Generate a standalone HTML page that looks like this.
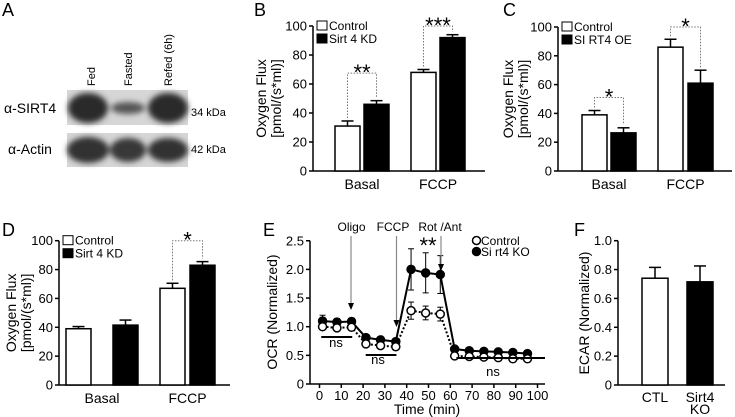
<!DOCTYPE html>
<html><head><meta charset="utf-8"><style>
body{margin:0;background:#fff}
svg{display:block;font-family:"Liberation Sans","DejaVu Sans",sans-serif}
</style></head><body>
<svg id="fig" width="735" height="417" viewBox="0 0 735 417" xmlns="http://www.w3.org/2000/svg">
<defs>
<filter id="blur" x="-20%" y="-50%" width="140%" height="200%"><feGaussianBlur stdDeviation="3"/></filter>
</defs>
<!-- Panel A: western blot -->
<g>
<text x="2" y="16" font-size="18">A</text>
<text transform="translate(95,86) rotate(-90)" font-size="11">Fed</text>
<text transform="translate(132,86) rotate(-90)" font-size="11">Fasted</text>
<text transform="translate(172,86) rotate(-90)" font-size="11">Refed (6h)</text>
<rect x="67" y="90" width="121" height="35" fill="#d6d6d6"/>
<rect x="67" y="133" width="121" height="34" fill="#d6d6d6"/>
<g filter="url(#blur)">
<ellipse cx="88" cy="108" rx="20" ry="15" fill="#2a2a2a"/>
<ellipse cx="128" cy="108" rx="17" ry="6" fill="#555"/>
<ellipse cx="168" cy="108" rx="20" ry="15" fill="#2a2a2a"/>
<ellipse cx="88" cy="150" rx="21" ry="13" fill="#333"/>
<ellipse cx="128" cy="150" rx="18" ry="12" fill="#383838"/>
<ellipse cx="168" cy="150" rx="20" ry="12" fill="#333"/>
</g>
<text x="4" y="113" font-size="14">α-SIRT4</text>
<text x="8" y="154" font-size="14">α-Actin</text>
<text x="191" y="116" font-size="11">34 kDa</text>
<text x="191" y="153" font-size="11">42 kDa</text>
</g>
</svg>
<script>
// ---------- DATA ----------
const barCats = ['Basal', 'FCCP'];
const bCtrl = [31, 68];
const bCtrlErr = [3.5, 2];
const bKD = [46, 92];
const bKDErr = [2.5, 2];
const bSig = ['**', '***'];
const cCtrl = [39, 86];
const cCtrlErr = [3, 5.5];
const cOE = [26.5, 61];
const cOEErr = [3.5, 9];
const cSig = ['*', '*'];
const dCtrl = [39, 67];
const dCtrlErr = [1.5, 3.5];
const dKD = [41.5, 83];
const dKDErr = [3.5, 2.5];
const dSig = ['', '*'];
const oxyTicks = [0, 20, 40, 60, 80, 100];
const eTimes = [1.4, 8, 14.7, 21.3, 28, 35, 42, 48.7, 55.4, 62, 68.7, 75.4, 82, 88.7, 95.4];
const eCtrl = [1.0, 0.98, 0.99, 0.70, 0.67, 0.65, 1.28, 1.24, 1.22, 0.49, 0.48, 0.47, 0.46, 0.44, 0.44];
const eCtrlErr = [0.05, 0.04, 0.04, 0.04, 0.03, 0.03, 0.15, 0.12, 0.12, 0.03, 0.03, 0.03, 0.03, 0.03, 0.03];
const eKO = [1.10, 1.08, 1.09, 0.81, 0.77, 0.74, 2.0, 1.94, 1.91, 0.61, 0.58, 0.57, 0.56, 0.55, 0.53];
const eKOErr = [0.1, 0.06, 0.06, 0.04, 0.03, 0.03, 0.36, 0.35, 0.33, 0.03, 0.03, 0.03, 0.03, 0.03, 0.03];
const eYTicks = [0, 0.5, 1.0, 1.5, 2.0, 2.5];
const eXTicks = [0, 10, 20, 30, 40, 50, 60, 70, 80, 90, 100];
const fCats = ['CTL', 'Sirt4 KO'];
const fVals = [0.74, 0.715];
const fErr = [0.075, 0.11];
const fTicks = [0, 0.2, 0.4, 0.6, 0.8, 1.0];

// ---------- HELPERS ----------
const svg = document.getElementById('fig');
const NS = 'http://www.w3.org/2000/svg';
function mk(tag, attrs, parent) {
  const e = document.createElementNS(NS, tag);
  for (const k in attrs) e.setAttribute(k, attrs[k]);
  (parent || svg).appendChild(e);
  return e;
}
function txt(x, y, s, size, anchor, parent, extra) {
  const t = mk('text', Object.assign({x: x, y: y, 'font-size': size, 'text-anchor': anchor || 'start'}, extra || {}), parent);
  t.textContent = s;
  return t;
}
function panel(name) {
  const g = mk('g', {});
  
  
  return g;
}
function yAxis(g, ax, yTop, yBot, ticks, ys, fmt, xEnd) {
  const l = mk('line', {x1: ax, y1: yTop, x2: ax, y2: yBot, stroke: '#000', 'stroke-width': 1.5}, g);
  
  
  const xl = mk('line', {x1: ax, y1: yBot, x2: xEnd, y2: yBot, stroke: '#000', 'stroke-width': 1.5}, g);
  
  
  ticks.forEach(v => {
    const y = ys(v);
    mk('line', {x1: ax - 4, y1: y, x2: ax, y2: y, stroke: '#000', 'stroke-width': 1.5}, g);
    const t = txt(ax - 6, y + 4.5, fmt(v), 13, 'end', g);
    
    
  });
}
function bar(g, x, w, v, err, fill, ys, yBase, name) {
  const top = ys(v);
  const et = ys(v + err);
  const cx = x + w / 2;
  mk('line', {x1: cx, y1: top, x2: cx, y2: et, stroke: '#000', 'stroke-width': 1.5}, g);
  mk('line', {x1: cx - 6, y1: et, x2: cx + 6, y2: et, stroke: '#000', 'stroke-width': 1.5}, g);
  const r = mk('rect', {x: x, y: top, width: w, height: yBase - top, fill: fill, stroke: '#000', 'stroke-width': 1.5}, g);
  
  
  return et;
}
function bracket(g, x1, y1, x2, y2, yTop, star) {
  const p = mk('path', {d: `M${x1},${y1 - 3}V${yTop}H${x2}V${y2 - 3}`, fill: 'none', stroke: '#777', 'stroke-width': 1, 'stroke-dasharray': '1.5,1.5'}, g);
  
  
  const t = txt((x1 + x2) / 2, yTop + 7, star, 22, 'middle', g);
  
  
}
function legendBox(g, x, y, fill, label) {
  const r = mk('rect', {x: x, y: y, width: 10, height: 9, fill: fill, stroke: '#000', 'stroke-width': 1}, g);
  
  
  const t = txt(x + 12, y + 9, label, 12, 'start', g);
  
  
}
function ylabel2(g, x1, x2, cy, l1, l2) {
  const a = txt(0, 0, l1, 14, 'middle', g, {transform: `translate(${x1},${cy}) rotate(-90)`});
  
  
  if (l2) {
    const b = txt(0, 0, l2, 14, 'middle', g, {transform: `translate(${x2},${cy}) rotate(-90)`});
    
    
  }
}

// ---------- generic grouped bar panel ----------
function groupedPanel(cfg) {
  const g = panel(cfg.name);
  const ys = v => cfg.y0 - v * cfg.k;
  const L = txt(cfg.letterX, 16 + cfg.letterY, cfg.letter, 18, 'start', g);
  
  
  ylabel2(g, cfg.yl1, cfg.yl2, (ys(100) + cfg.y0) / 2, 'Oxygen Flux', '[pmol/(s*ml)]');
  yAxis(g, cfg.ax, ys(100), cfg.y0, oxyTicks, ys, v => String(v), cfg.xEnd);
  barCats.forEach((c, i) => {
    const x1 = cfg.ctrlX[i], x2 = cfg.ctrlX[i] + cfg.off[i];
    const e1 = bar(g, x1, 25, cfg.ctrl[i], cfg.ctrlErr[i], '#fff', ys, cfg.y0, 'bar-control-' + c.toLowerCase());
    const e2 = bar(g, x2, 25, cfg.trt[i], cfg.trtErr[i], '#000', ys, cfg.y0, 'bar-treatment-' + c.toLowerCase());
    if (cfg.sig[i]) bracket(g, x1 + 12.5, e1, x2 + 12.5, e2, ys(cfg.sigLvl[i]), cfg.sig[i]);
    const t = txt((x1 + x2 + 25) / 2, cfg.y0 + 18, c, 14, 'middle', g);
    
    
  });
  legendBox(g, cfg.ax + 4, ys(100) - 5, '#fff', 'Control');
  legendBox(g, cfg.ax + 4, ys(100) + 8, '#000', cfg.trtName);
}
groupedPanel({name: 'panel-b', letter: 'B', letterX: 254, letterY: 0, y0: 171, k: 1.45, ax: 313, xEnd: 485,
  yl1: 266, yl2: 281, ctrlX: [335, 411], off: [29, 29], ctrl: bCtrl, ctrlErr: bCtrlErr, trt: bKD, trtErr: bKDErr,
  sig: bSig, sigLvl: [67.5, 100], trtName: 'Sirt 4 KD'});
groupedPanel({name: 'panel-c', letter: 'C', letterX: 503, letterY: 0, y0: 171, k: 1.44, ax: 558, xEnd: 732,
  yl1: 513, yl2: 528, ctrlX: [582, 658], off: [29, 30], ctrl: cCtrl, ctrlErr: cCtrlErr, trt: cOE, trtErr: cOEErr,
  sig: cSig, sigLvl: [51, 100], trtName: 'SI RT4 OE'});
groupedPanel({name: 'panel-d', letter: 'D', letterX: 2, letterY: 220, y0: 385, k: 1.443, ax: 59, xEnd: 230,
  yl1: 16, yl2: 31, ctrlX: [66, 160], off: [47, 30], ctrl: dCtrl, ctrlErr: dCtrlErr, trt: dKD, trtErr: dKDErr,
  sig: dSig, sigLvl: [0, 100], trtName: 'Sirt 4 KD'});

// ---------- Panel E ----------
(function () {
  const g = panel('panel-e');
  const ys = v => 384 - v * 57.3;
  const xs = t => 319.5 + t * 2.18;
  const L = txt(263, 236, 'E', 18, 'start', g);
  
  
  ylabel2(g, 277, 0, 312, 'OCR (Normalized)', null);
  yAxis(g, 310, ys(2.5), 384, eYTicks, ys, v => v === 0 ? '0' : v.toFixed(1), 545);
  eXTicks.forEach(t => {
    mk('line', {x1: xs(t), y1: 384, x2: xs(t), y2: 388, stroke: '#000', 'stroke-width': 1.5}, g);
    const l = txt(xs(t), 400, String(t), 13, 'middle', g);
    
    
  });
  const xt = txt(427, 414, 'Time (min)', 14, 'middle', g);
  
  
  // series lines
  const segs = [[0, 3], [3, 6], [6, 9], [9, 15]];
  function series(vals, errs, fill, dash, name) {
    const d = vals.map((v, i) => (i ? 'L' : 'M') + xs(eTimes[i]) + ',' + ys(v)).join('');
    const p = mk('path', {d: d, fill: 'none', stroke: '#000', 'stroke-width': 2, 'stroke-dasharray': dash}, g);
    
    
    vals.forEach((v, i) => {
      const x = xs(eTimes[i]);
      const up = fill === '#000' || errs[i] > 0.08;
      const yt = ys(v + errs[i]);
      mk('line', {x1: x, y1: ys(v), x2: x, y2: yt, stroke: '#000', 'stroke-width': 1}, g);
      mk('line', {x1: x - 3, y1: yt, x2: x + 3, y2: yt, stroke: '#000', 'stroke-width': 1}, g);
      if (errs[i] > 0.08) {
        const yb = ys(v - errs[i]);
        mk('line', {x1: x, y1: ys(v), x2: x, y2: yb, stroke: '#000', 'stroke-width': 1}, g);
        mk('line', {x1: x - 3, y1: yb, x2: x + 3, y2: yb, stroke: '#000', 'stroke-width': 1}, g);
      }
    });
    vals.forEach((v, i) => {
      const c = mk('circle', {cx: xs(eTimes[i]), cy: ys(v), r: 4, fill: fill, stroke: '#000', 'stroke-width': 1.5}, g);
      
      
    });
  }
  series(eKO, eKOErr, '#000', 'none', 'sirt4-ko');
  series(eCtrl, eCtrlErr, '#fff', '2,2', 'control');
  // ns bars
  [[xs(0.8), xs(15), 337, 336, 347], [xs(21.2), xs(35.3), 355, 378, 364], [xs(62.8), 545, 358, 493, 376]].forEach(n => {
    const l = mk('line', {x1: n[0], y1: n[2], x2: n[1], y2: n[2], stroke: '#000', 'stroke-width': 2}, g);
    
    
    const t = txt(n[3], n[4], 'ns', 13, 'middle', g);
    
    
  });
  // arrows
  [['Oligo', 351.5, 351, 310], ['FCCP', 393, 396.5, 327], ['Rot /Ant', 440, 441, 271]].forEach(a => {
    const t = txt(a[1], 231, a[0], 12, 'middle', g);
    
    
    mk('line', {x1: a[2], y1: 236, x2: a[2], y2: a[3] - 5, stroke: '#888', 'stroke-width': 1.2}, g);
    const ar = mk('path', {d: `M${a[2] - 3},${a[3] - 7}L${a[2]},${a[3]}L${a[2] + 3},${a[3] - 7}Z`, fill: '#000'}, g);
    
    
  });
  const st = txt(428, 253, '**', 22, 'middle', g);
  
  
  // legend
  const c1 = mk('circle', {cx: 476.5, cy: 240.5, r: 4, fill: '#fff', stroke: '#000', 'stroke-width': 1.5}, g);
  
  
  const t1 = txt(481, 245, 'Control', 12, 'start', g);
  
  
  const c2 = mk('circle', {cx: 476.5, cy: 251.5, r: 4, fill: '#000', stroke: '#000', 'stroke-width': 1.5}, g);
  
  
  const t2 = txt(481, 256, 'Si rt4 KO', 12, 'start', g);
  
  
})();

// ---------- Panel F ----------
(function () {
  const g = panel('panel-f');
  const ys = v => 385 - v * 144.3;
  const L = txt(574, 236, 'F', 18, 'start', g);
  
  
  ylabel2(g, 589, 0, 313, 'ECAR (Normalized)', null);
  yAxis(g, 618, ys(1.0), 385, fTicks, ys, v => v === 0 ? '0' : v.toFixed(1), 725);
  const fx = [642, 687];
  fCats.forEach((c, i) => {
    bar(g, fx[i], 26, fVals[i], fErr[i], i ? '#000' : '#fff', ys, 385, 'bar-' + (i ? 'sirt4-ko' : 'ctl'));
    const parts = c.split(' ');
    parts.forEach((p, j) => {
      const t = txt(fx[i] + 13, 402 + j * 12, p, 14, 'middle', g);
      
      
    });
  });
})();
</script>
</body></html>
